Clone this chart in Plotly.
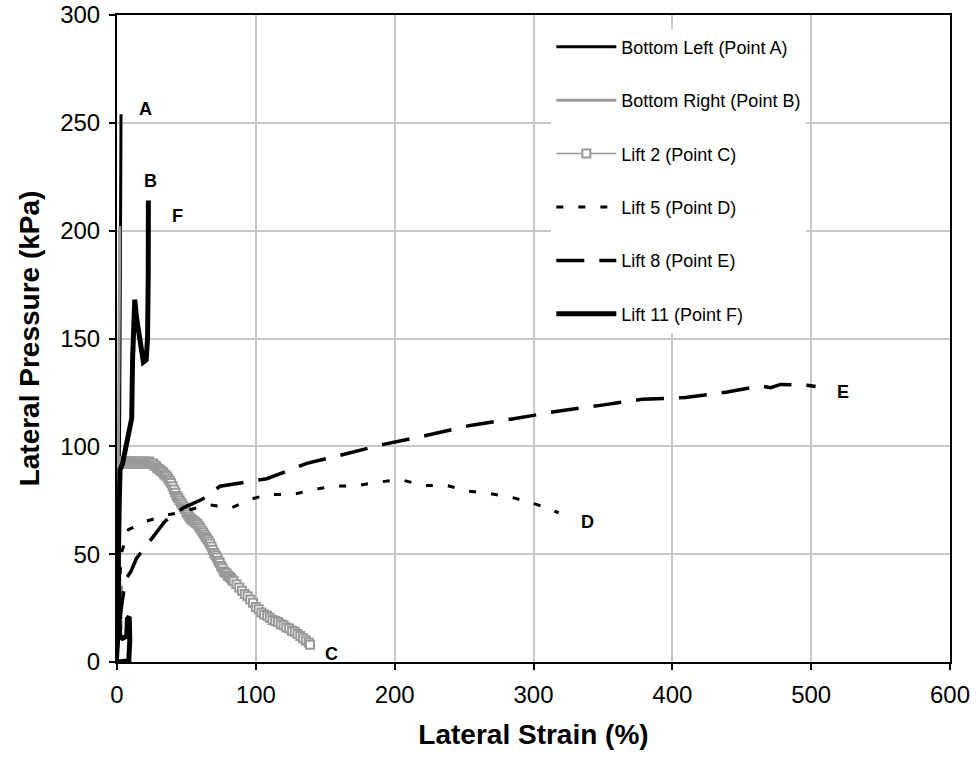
import plotly.graph_objects as go

# ---- data ----
a_x = [0, 0.5, 1.0, 1.5, 2.0, 2.3, 2.6, 2.9]
a_y = [0, 20, 47, 80, 120, 170, 210, 254]

b_x = [0, 0.3, 0.5, 0.7, 0.9, 1.2, 1.6, 2.0]
b_y = [0, 30, 60, 92, 120, 150, 180, 202]

c_x = [0.5, 0.5, 0.6, 0.8, 0.5, 1, 2, 3, 4, 5, 6, 7, 8, 9, 10, 11, 12, 13, 14, 15, 16, 17,
       18, 19, 20, 21, 22, 23, 24, 25, 26, 27, 28, 29, 30, 31, 32, 33, 34, 35, 36, 37, 38, 39,
       40, 41, 42, 43, 44, 45, 46, 47, 48, 49, 50, 51, 52, 53, 54, 55, 56, 57, 58, 59, 60,
       61, 62, 63, 64, 65, 66, 67, 68, 69, 70, 71, 72, 73, 74, 75, 76, 77, 78, 79, 80, 81,
       82, 83, 84, 86, 88, 90, 92, 94, 96, 98, 100, 102, 104, 106, 108, 110, 112, 114, 116,
       118, 120, 122, 124, 126, 128, 130, 132, 134, 136, 138, 139]
c_y = [17, 22, 27, 33, 92, 93, 92, 93, 92, 93, 92, 93, 92, 93, 92, 93, 92, 92, 93, 92, 93, 92,
       93, 92, 93, 92, 92, 93, 92, 92, 92, 91, 91, 90, 89.5, 89, 88.5, 88, 87, 86.5, 86, 85, 84, 83,
       81.5, 80, 78.5, 77, 76, 75, 74, 73, 72, 71, 69.5, 68.5, 67.5, 66.5, 66, 65.5, 65, 64.5, 64, 63, 62,
       61, 60, 59, 58, 57, 56, 55, 53.5, 52, 50.5, 49.5, 48.5, 47, 46, 44.5, 43.5, 42, 41.5, 41, 40, 39.5,
       39, 38, 37.5, 36, 34.5, 33, 31.5, 30.5, 29, 27.5, 25.5, 24.5, 23, 22, 21.5, 20.5, 19.5, 19, 18.5,
       17.5, 17, 16, 15.5, 14.5, 14, 13, 12, 11, 10, 9, 8, 7, 6.5]

d_x = [0, 1, 3, 8.2, 21.3, 35, 50, 64.6, 82.6, 95.9, 109, 127, 141.6, 156, 172.8, 188.4,
       204, 220.8, 236.5, 253.3, 269, 285.8, 302.6, 318.1]
d_y = [0, 25, 50, 61.4, 65.3, 68, 70, 73, 71.5, 75.4, 77.7, 77.7, 80, 81.5, 81.8, 83.4,
       84.6, 81.8, 82, 79.2, 78.1, 76.1, 73, 69.2]

e_x = [0, 2, 6, 10, 14, 20, 26, 34.6, 47.8, 61, 74.2, 91, 107.9, 122.3, 136.7, 153.6,
       176, 192, 223.3, 254.5, 285.8, 317.3, 348.2, 378.3, 409.5, 439.5, 463.6, 470.8,
       478, 497.2, 503.2]
e_y = [0, 20, 38, 42, 48, 53, 58, 65.3, 71.5, 75.3, 81.5, 83.1, 85, 88.5, 92.1, 94.7,
       98.5, 100.9, 105.1, 109.7, 112.8, 116.3, 119, 121.8, 122.6, 125.2, 128, 127.2,
       128.7, 128.3, 127.7]

f_x = [0, 8.5, 9.2, 8.8, 7.5, 7.0, 4.0, 2.0, 1.5, 1.2, 1.0, 1.5, 2.2, 4.0, 7.0, 9.0,
       10.6, 11.2, 12.0, 12.8, 14.0, 17.0, 19.0, 21.0, 22.0, 22.5, 22.6]
f_y = [0, 0.5, 10, 21, 20, 12, 11, 12, 20, 30, 47, 70, 89, 92, 103, 110,
       113, 140, 165, 168, 160, 145, 139, 140, 150, 180, 214]

series_names = ["Bottom Left (Point A)", "Bottom Right (Point B)", "Lift 2 (Point C)",
                "Lift 5 (Point D)", "Lift 8 (Point E)", "Lift 11 (Point F)"]

label_text = ["A", "B", "F", "C", "D", "E"]
label_x = [20.2, 23.8, 43.3, 154.3, 338.9, 522.7]
label_y = [256.4, 223, 206.8, 3.9, 64.7, 125]

x_ticks = [0, 100, 200, 300, 400, 500, 600]
y_ticks = [0, 50, 100, 150, 200, 250, 300]

GREY = "#999999"
FONT = "Liberation Sans, Arial"

fig = go.Figure()
fig.add_trace(go.Scatter(x=a_x, y=a_y, mode="lines", name=series_names[0], legendgroup="a",
                         line=dict(color="black", width=3)))
fig.add_trace(go.Scatter(x=b_x, y=b_y, mode="lines", name=series_names[1], legendgroup="b",
                         line=dict(color=GREY, width=3)))
fig.add_trace(go.Scatter(x=c_x, y=c_y, mode="lines+markers", name=series_names[2], legendgroup="c",
                         line=dict(color=GREY, width=1.5),
                         marker=dict(symbol="square", size=8, color="white",
                                     line=dict(color=GREY, width=2))))
fig.add_trace(go.Scatter(x=d_x, y=d_y, mode="lines", name=series_names[3], legendgroup="d",
                         line=dict(color="black", width=3, dash="7px,15px")))
fig.add_trace(go.Scatter(x=e_x, y=e_y, mode="lines", name=series_names[4], legendgroup="e",
                         line=dict(color="black", width=3.5, dash="28px,15px")))
fig.add_trace(go.Scatter(x=f_x, y=f_y, mode="lines", name=series_names[5], legendgroup="f",
                         line=dict(color="black", width=5)))

for t, x, y in zip(label_text, label_x, label_y):
    fig.add_annotation(x=x, y=y, text="<b>%s</b>" % t, showarrow=False,
                       font=dict(family=FONT, size=18, color="black"))

axis_common = dict(showgrid=True, gridcolor="#c8c8c8", gridwidth=2,
                   showline=True, linecolor="black", linewidth=2, mirror=True,
                   ticks="outside", ticklen=6, tickwidth=2, tickcolor="black",
                   zeroline=False, ticklabelstandoff=4, automargin=False,
                   tickfont=dict(family=FONT, size=24, color="black"))

fig.update_xaxes(range=[0, 600], tickvals=x_ticks, ticktext=[str(v) for v in x_ticks],
                 title=dict(text="<b>Lateral Strain (%)</b>", standoff=18,
                            font=dict(family=FONT, size=28, color="black")),
                 **axis_common)
fig.update_yaxes(range=[0, 300], tickvals=y_ticks, ticktext=[str(v) for v in y_ticks],
                 title=dict(text="<b>Lateral Pressure (kPa)</b>", standoff=12,
                            font=dict(family=FONT, size=28, color="black")),
                 **axis_common)

fig.update_layout(
    width=976, height=767,
    margin=dict(l=117, r=26, t=15, b=105, autoexpand=False),
    plot_bgcolor="white", paper_bgcolor="white",
    showlegend=True,
    legend=dict(x=0.5214, y=0.979, xanchor="left", yanchor="top",
                bgcolor="white", borderwidth=0,
                font=dict(family=FONT, size=18, color="black"),
                traceorder="grouped", tracegroupgap=27, itemwidth=60),
)

fig.write_html("out.html")
